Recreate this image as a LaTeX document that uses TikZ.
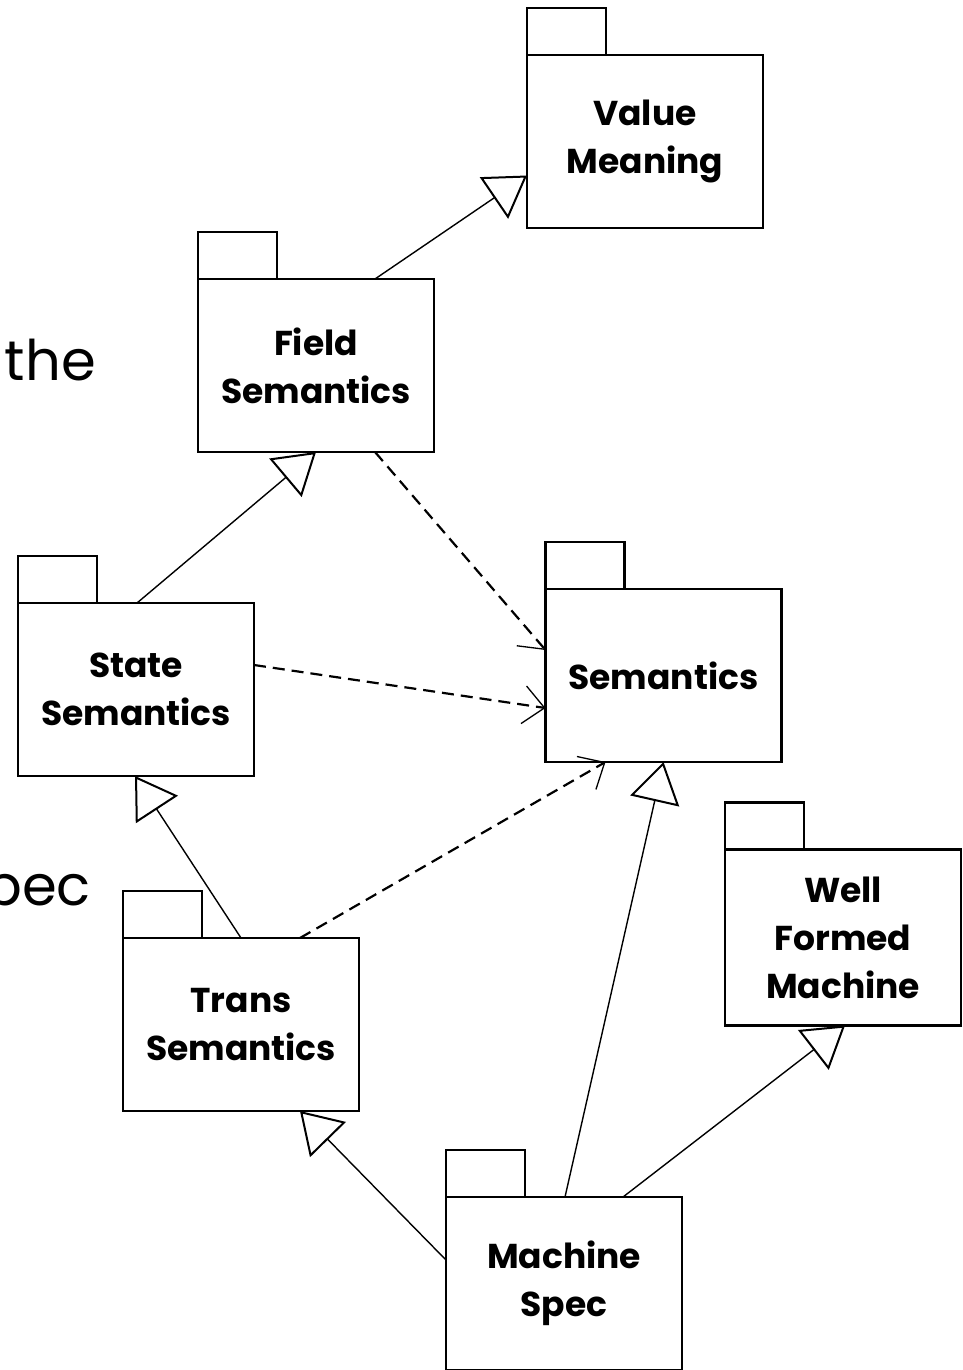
\documentclass[tikz,border=0pt]{standalone}
\usepackage{fontspec}
\setmainfont{Poppins}
\usetikzlibrary{arrows.meta,calc}
\begin{document}
\begin{tikzpicture}[x=1pt,y=-1pt,
  pkg/.style={draw, line width=2.6pt, minimum width=236pt, minimum height=173pt,
    inner sep=0pt, outer sep=0pt, align=center, fill=white,
    font=\fontsize{34.5}{48}\selectfont\bfseries},
  tab/.style={draw, line width=2.6pt},
  gen/.style={line width=1.4pt,
    -{Triangle[open, length=40pt, width=50pt, line width=2pt]}},
  dep/.style={line width=2.2pt, dash pattern=on 12pt off 7pt,
    -{Straight Barb[length=21pt, width=38pt, line width=1.3pt]}},
  side/.style={font=\fontsize{56}{60}\selectfont, anchor=base east, inner sep=0pt}
]
\useasboundingbox (0,0) rectangle (962,1370);
\clip (0,0) rectangle (962,1370);

% fragments of slide text at the left edge
\node[side] (t1) at (96,380) {the};
\node[side] (t2) at (91,905) {pec};

% packages (body + tab)
\node[pkg] (v)  at (645,141.5)  {Value\\Meaning};
\node[pkg] (f)  at (316,365.5)  {Field\\Semantics};
\node[pkg] (s)  at (663.5,675.5) {Semantics};
\node[pkg] (st) at (136,689.5)  {State\\Semantics};
\node[pkg] (t)  at (241,1024.5) {Trans\\Semantics};
\node[pkg] (m)  at (564,1283.5) {Machine\\Spec};
\node[pkg, minimum height=176pt] (w) at (843,937.5) {Well\\Formed\\Machine};

\foreach \p in {v,f,s,st,t,m,w}
  \draw[tab] (\p.north west) rectangle ++(79,-47);

% generalizations
\draw[gen] ([xshift=59pt]f.north) -- ([yshift=-34pt]v.west);
\draw[gen] ([xshift=1pt]st.north) -- (f.south);
\draw[gen] (t.north) -- ([xshift=-1pt]st.south);
\draw[gen] ([xshift=1pt]m.north) -- (s.south);
\draw[gen] ([yshift=23.5pt]m.west) -- ([xshift=59pt]t.south);
\draw[gen] ([xshift=59pt]m.north) -- ([xshift=2pt]w.south);

% dependencies
\draw[dep] ([xshift=59pt]f.south) -- ([yshift=25.5pt]s.west);
\draw[dep] ([yshift=24.5pt]st.east) -- ([yshift=-32.5pt]s.west);
\draw[dep] ([xshift=59pt]t.north) -- ([xshift=-58pt]s.south);
\end{tikzpicture}
\end{document}
